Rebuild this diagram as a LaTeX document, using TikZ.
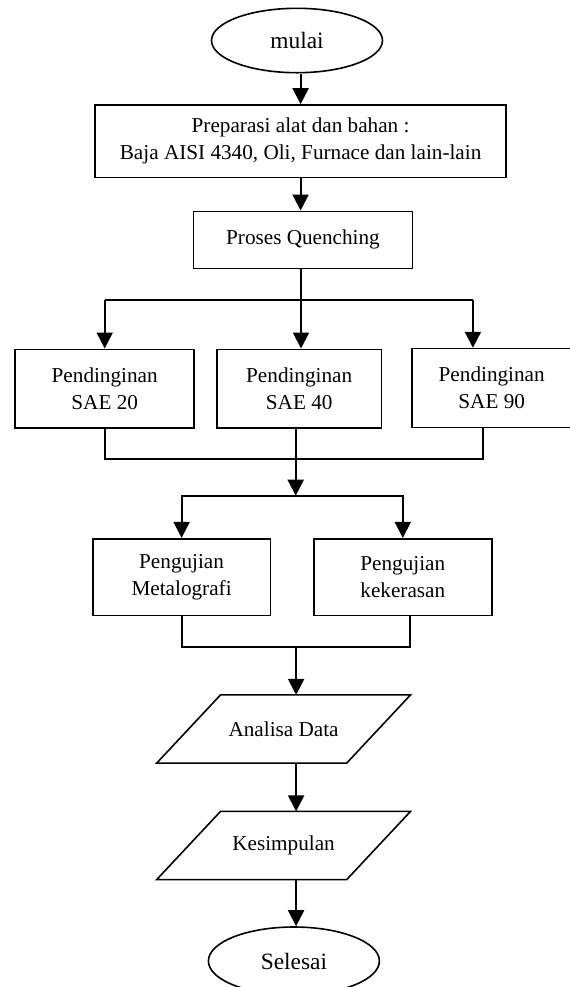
\documentclass[tikz,border=0pt]{standalone}
\usepackage{fontspec}
\setmainfont{Liberation Serif}
\usepackage{tikz}
\usetikzlibrary{shapes.geometric,arrows.meta}

\begin{document}
\begin{tikzpicture}[x=0.5pt,y=-0.5pt,
		font=\fontsize{10.6pt}{13.5pt}\selectfont,
		box/.style={draw,line width=0.8pt,rectangle,align=center,inner sep=0pt},
		oval/.style={draw,line width=0.8pt,ellipse,inner sep=0pt,minimum width=85.5pt,
			font=\fontsize{11.7pt}{14pt}\selectfont},
		io/.style={rectangle,inner sep=0pt,minimum width=126.5pt,minimum height=33.7pt},
		slant/.style={line width=0.8pt},
		arr/.style={line width=1pt,-{Triangle[length=8pt,width=8pt]}},
		line/.style={line width=1pt}]
		\useasboundingbox (0,0) rectangle (569,987);
		\node[oval,minimum height=32.2pt] (mulai) at (297,40.5) {mulai};
		\node[box,minimum width=205.5pt,minimum height=36.2pt] (prep) at (300.6,141.2)
			{Preparasi alat dan bahan :\\ Baja AISI 4340, Oli, Furnace dan lain-lain};
		\node[box,minimum width=109.6pt,minimum height=28.5pt] (quench) at (303,239.8) {Proses Quenching};
		\node[box,minimum width=89.5pt,minimum height=39.4pt] (sae20) at (104.7,388.7) {Pendinginan\\ SAE 20};
		\node[box,minimum width=82.2pt,minimum height=39.4pt] (sae40) at (299.2,388.7) {Pendinginan\\ SAE 40};
		\node[box,minimum width=79.8pt,minimum height=39.4pt] (sae90) at (491.7,388) {Pendinginan\\ SAE 90};
		\node[box,minimum width=88.7pt,minimum height=38.3pt] (metal) at (181.6,577) {Pengujian\\ Metalografi};
		\node[box,minimum width=88.9pt,minimum height=38.3pt] (keras) at (402.8,577) {Pengujian\\ kekerasan};
		\node[io] (analisa) at (283.6,729) {Analisa Data};
		\node[io] (simpul) at (283.6,845.5) {Kesimpulan};
		\node[oval,minimum height=34pt] (selesai) at (293.9,961) {Selesai};
		\draw[slant] (analisa.south west) -- ++(190,0) -- (analisa.north east) -- ++(-190,0) -- cycle;
		\draw[slant] (simpul.south west) -- ++(190,0) -- (simpul.north east) -- ++(-190,0) -- cycle;

		\coordinate (split1) at (301,300);
		\coordinate (split1r) at (472.9,300);
		\coordinate (join1) at (295.7,458.7);
		\coordinate (join1r) at (483.3,458.7);
		\coordinate (split2) at (295.7,495.7);
		\coordinate (join2) at (296.1,647.3);
		\coordinate (join2r) at (410,647.3);

		\draw[arr] (prep.north |- mulai.south) -- (prep.north);
		\draw[arr] (prep.south) -- (prep.south |- quench.north);
		\draw[arr] (split1 |- quench.south) -- (split1 |- sae40.north);
		\draw[line] (sae20.north |- split1) -- (split1r);
		\draw[arr] (sae20.north |- split1) -- (sae20.north);
		\draw[arr] (split1r) -- (split1r |- sae90.north);
		\draw[line] (sae20.south) -- (sae20.south |- join1) -- (join1r) -- (join1r |- sae90.south);
		\draw[line] (join1 |- sae40.south) -- (join1);
		\draw[arr] (join1) -- (split2);
		\draw[arr] (split2) -| (metal.north);
		\draw[arr] (split2) -| (keras.north);
		\draw[line] (metal.south) -- (metal.south |- join2) -- (join2r) -- (join2r |- keras.south);
		\draw[arr] (join2) -- (join2 |- analisa.north);
		\draw[arr] (join2 |- analisa.south) -- (join2 |- simpul.north);
		\draw[arr] (join2 |- simpul.south) -- (join2 |- selesai.north);
		\end{tikzpicture}
\end{document}
